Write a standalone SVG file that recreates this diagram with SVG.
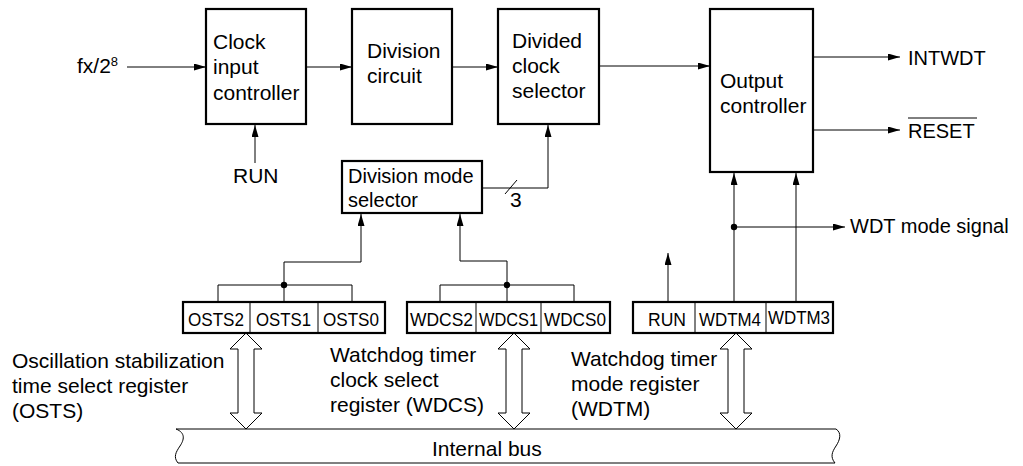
<svg xmlns="http://www.w3.org/2000/svg" width="1023" height="466" viewBox="0 0 1023 466">
<style>
text { font-family: "Liberation Sans", Arial, sans-serif; font-size: 21px; fill: #000; }
.sm { font-size: 20px; }
.reg { font-size: 17.5px; }
.box { fill: #fff; stroke: #000; stroke-width: 2.2; }
.cell { fill: none; stroke: #000; stroke-width: 1; }
.ln { fill: none; stroke: #000; stroke-width: 1; }
.arr { fill: none; stroke: #000; stroke-width: 1; marker-end: url(#ah); }
.dbl { fill: #fff; stroke: #000; stroke-width: 1; }
</style>
<defs>
<marker id="ah" markerUnits="userSpaceOnUse" markerWidth="12" markerHeight="8" refX="12" refY="3.5" orient="auto">
<path d="M0,0 L12,3.5 L0,7 Z" fill="#000"/>
</marker>
</defs>
<rect width="1023" height="466" fill="#fff"/>

<g id="connectors">
<line class="arr" x1="127" y1="67" x2="206" y2="67"/>
<line class="arr" x1="306" y1="67" x2="352" y2="67"/>
<line class="arr" x1="452" y1="67" x2="498" y2="67"/>
<line class="arr" x1="599" y1="66" x2="710" y2="66"/>
<line class="arr" x1="255" y1="163" x2="255" y2="125"/>
<polyline class="arr" points="482,188 548,188 548,125"/>
<line class="ln" x1="505" y1="194" x2="517" y2="180"/>
<polyline class="ln" points="218,302 218,285 352,285 352,302"/>
<line class="ln" x1="284" y1="302" x2="284" y2="285"/>
<circle cx="284" cy="285" r="3.2" fill="#000"/>
<polyline class="arr" points="284,285 284,262 361,262 361,214"/>
<polyline class="ln" points="440,302 440,285 574,285 574,302"/>
<line class="ln" x1="507" y1="302" x2="507" y2="285"/>
<circle cx="507" cy="285" r="3.2" fill="#000"/>
<polyline class="arr" points="507,285 507,261 460,261 460,214"/>
<line class="arr" x1="668" y1="302" x2="668" y2="253"/>
<line class="arr" x1="734" y1="302" x2="734" y2="173"/>
<circle cx="734" cy="227" r="3.2" fill="#000"/>
<line class="arr" x1="734" y1="227" x2="845" y2="227"/>
<line class="arr" x1="796" y1="301" x2="796" y2="173"/>
<line class="arr" x1="813" y1="57" x2="900" y2="57"/>
<line class="arr" x1="813" y1="130" x2="900" y2="130"/>
<polygon class="dbl" points="246,333 262,349 254,349 254,413 262,413 246,429 230,413 238,413 238,349 230,349"/>
<polygon class="dbl" points="514,333 530,349 522,349 522,413 530,413 514,429 498,413 506,413 506,349 498,349"/>
<polygon class="dbl" points="736,333 752,349 744,349 744,413 752,413 736,429 720,413 728,413 728,349 720,349"/>
</g>

<g id="input-labels">
<text x="77" y="73">fx/2<tspan font-size="13" dy="-7">8</tspan></text>
<text x="233" y="183">RUN</text>
<text x="510" y="207">3</text>
</g>

<g id="clock-input-controller">
<rect class="box" x="206" y="9" width="100" height="115"/>
<text x="213" y="49">Clock</text>
<text x="213" y="74">input</text>
<text x="213" y="100">controller</text>
</g>

<g id="division-circuit">
<rect class="box" x="352" y="9" width="100" height="115"/>
<text x="367" y="58">Division</text>
<text x="367" y="83">circuit</text>
</g>

<g id="divided-clock-selector">
<rect class="box" x="498" y="9" width="101" height="115"/>
<text x="512" y="48">Divided</text>
<text x="512" y="73">clock</text>
<text x="512" y="98">selector</text>
</g>

<g id="division-mode-selector">
<rect class="box" x="342" y="161" width="140" height="52"/>
<text class="sm" x="348" y="183">Division mode</text>
<text class="sm" x="348" y="207">selector</text>
</g>

<g id="output-controller">
<rect class="box" x="710" y="9" width="103" height="163"/>
<text x="720" y="88">Output</text>
<text x="720" y="113">controller</text>
</g>

<g id="output-labels">
<text class="sm" x="908" y="65">INTWDT</text>
<text class="sm" x="908" y="138">RESET</text>
<line class="ln" x1="908" y1="118" x2="977" y2="118"/>
<text class="sm" x="850" y="233">WDT mode signal</text>
</g>

<g id="osts-register">
<rect class="box" x="183" y="302" width="202" height="31"/>
<line class="cell" x1="250" y1="302" x2="250" y2="333"/>
<line class="cell" x1="318" y1="302" x2="318" y2="333"/>
<text class="reg" x="188" y="326" textLength="56" lengthAdjust="spacingAndGlyphs">OSTS2</text>
<text class="reg" x="256" y="326" textLength="55" lengthAdjust="spacingAndGlyphs">OSTS1</text>
<text class="reg" x="323" y="326" textLength="56" lengthAdjust="spacingAndGlyphs">OSTS0</text>
</g>

<g id="wdcs-register">
<rect class="box" x="407" y="302" width="203" height="31"/>
<line class="cell" x1="476" y1="302" x2="476" y2="333"/>
<line class="cell" x1="541" y1="302" x2="541" y2="333"/>
<text class="reg" x="410" y="326" textLength="63" lengthAdjust="spacingAndGlyphs">WDCS2</text>
<text class="reg" x="479" y="326" textLength="59" lengthAdjust="spacingAndGlyphs">WDCS1</text>
<text class="reg" x="544" y="326" textLength="62" lengthAdjust="spacingAndGlyphs">WDCS0</text>
</g>

<g id="wdtm-register">
<rect class="box" x="633" y="302" width="200" height="31"/>
<line class="cell" x1="695" y1="302" x2="695" y2="333"/>
<line class="cell" x1="766" y1="302" x2="766" y2="333"/>
<text class="reg" x="648" y="326" textLength="38" lengthAdjust="spacingAndGlyphs">RUN</text>
<text class="reg" x="699" y="326" textLength="62" lengthAdjust="spacingAndGlyphs">WDTM4</text>
<text class="reg" x="768" y="324" textLength="62" lengthAdjust="spacingAndGlyphs">WDTM3</text>
</g>

<g id="register-labels">
<text x="12" y="368">Oscillation stabilization</text>
<text x="12" y="393">time select register</text>
<text x="12" y="418">(OSTS)</text>
<text x="330" y="362">Watchdog timer</text>
<text x="330" y="387">clock select</text>
<text x="330" y="412">register (WDCS)</text>
<text x="571" y="366">Watchdog timer</text>
<text x="571" y="391">mode register</text>
<text x="571" y="416">(WDTM)</text>
</g>

<g id="internal-bus">
<path class="ln" d="M176,429 C186,433 184,440 180,446 C176,452 173,457 178,463 L835,463 C830,457 832,452 836,446 C840,440 842,433 836,429 Z" fill="#fff"/>
<text x="432" y="456">Internal bus</text>
</g>
</svg>
